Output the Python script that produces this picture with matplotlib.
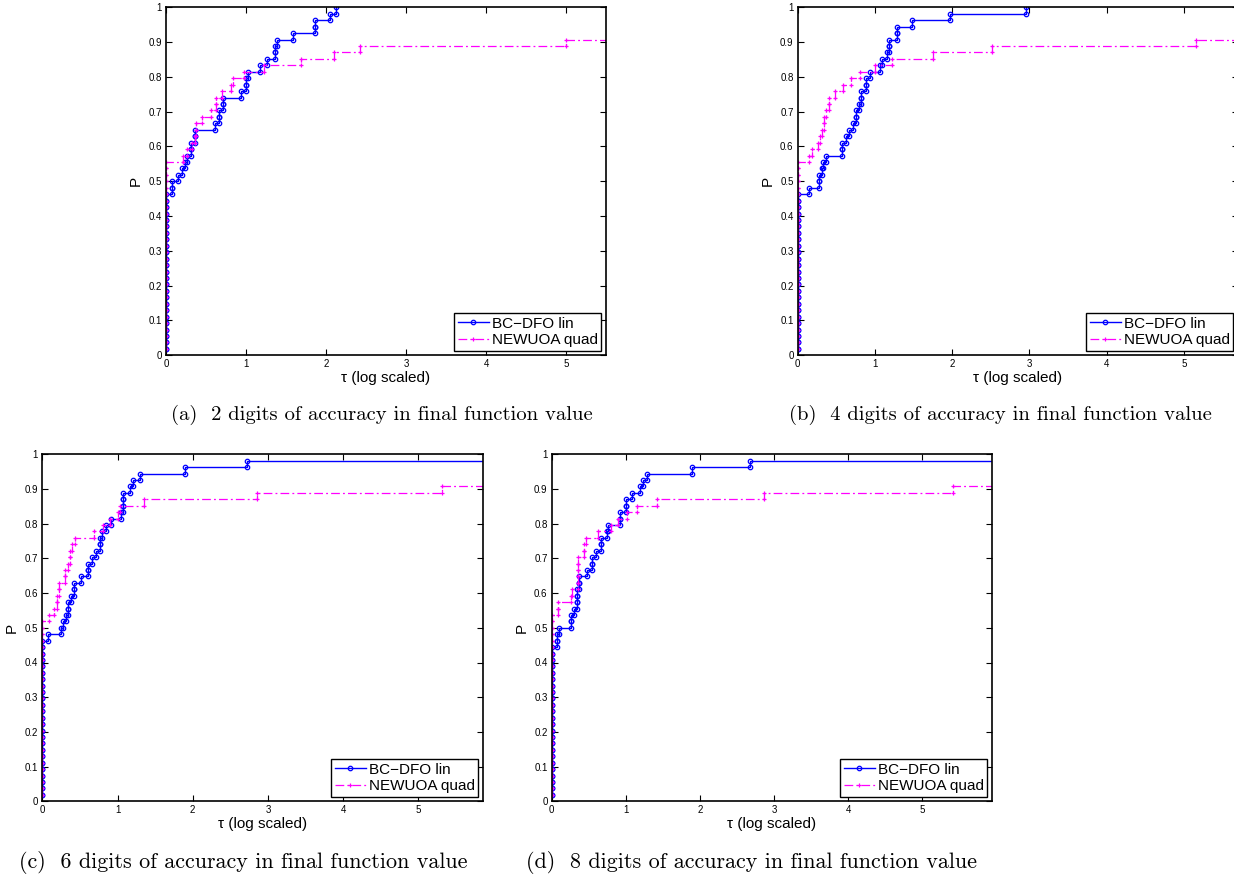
import matplotlib.pyplot as plt
import numpy as np

N_PROBLEMS = 54

# (a) 2 digits of accuracy
a_bcdfo_tau = [0.0, 0.075, 0.155, 0.2, 0.24, 0.26, 0.31, 0.36, 0.617, 0.66, 0.71,
               0.94, 1.0, 1.03, 1.17, 1.26, 1.36, 1.39, 1.59, 1.86, 2.05, 2.13]
a_bcdfo_count = [25, 27, 28, 29, 30, 31, 33, 35, 36, 38, 40,
                 41, 43, 44, 45, 46, 48, 49, 50, 52, 53, 54]
a_newuoa_tau = [0.0, 0.21, 0.26, 0.32, 0.36, 0.38, 0.45, 0.56, 0.62, 0.7, 0.81,
                0.84, 0.97, 1.22, 1.69, 2.1, 2.43, 5.0]
a_newuoa_count = [30, 31, 32, 33, 34, 36, 37, 38, 40, 41, 42,
                  43, 44, 45, 46, 47, 48, 49]

# (b) 4 digits of accuracy
b_bcdfo_tau = [0.0, 0.14, 0.27, 0.31, 0.33, 0.37, 0.57, 0.63, 0.665, 0.71, 0.76, 0.79,
               0.82, 0.89, 0.94, 1.06, 1.09, 1.15, 1.18, 1.29, 1.48, 1.97, 2.95]
b_bcdfo_count = [25, 26, 28, 29, 30, 31, 33, 34, 35, 36, 38, 39,
                 41, 43, 44, 45, 46, 47, 49, 51, 52, 53, 54]
b_newuoa_tau = [0.0, 0.14, 0.19, 0.26, 0.29, 0.31, 0.34, 0.37, 0.4, 0.48, 0.59,
                0.69, 0.81, 1.0, 1.22, 1.75, 2.51, 5.16]
b_newuoa_count = [30, 31, 32, 33, 34, 35, 37, 38, 40, 41, 42,
                  43, 44, 45, 46, 47, 48, 49]

# (c) 6 digits of accuracy
c_bcdfo_tau = [0.0, 0.07, 0.25, 0.27, 0.31, 0.345, 0.38, 0.42, 0.51, 0.61, 0.66, 0.72,
               0.765, 0.79, 0.845, 0.91, 1.04, 1.075, 1.16, 1.21, 1.3, 1.9, 2.72]
c_bcdfo_count = [25, 26, 27, 28, 29, 31, 32, 34, 35, 37, 38, 39,
                 41, 42, 43, 44, 45, 48, 49, 50, 51, 52, 53]
c_newuoa_tau = [0.0, 0.09, 0.16, 0.19, 0.225, 0.3, 0.345, 0.37, 0.39, 0.43, 0.69,
                0.81, 0.9, 1.01, 1.03, 1.35, 2.86, 5.31]
c_newuoa_count = [28, 29, 30, 32, 34, 36, 37, 39, 40, 41, 42,
                  43, 44, 45, 46, 47, 48, 49]

# (d) 8 digits of accuracy
d_bcdfo_tau = [0.0, 0.07, 0.1, 0.265, 0.3, 0.335, 0.375, 0.47, 0.545, 0.6, 0.665,
               0.74, 0.76, 0.92, 1.0, 1.09, 1.19, 1.23, 1.28, 1.89, 2.67]
d_bcdfo_count = [24, 26, 27, 29, 30, 33, 35, 36, 38, 39, 41,
                 42, 43, 45, 47, 48, 49, 50, 51, 52, 53]
d_newuoa_tau = [0.0, 0.09, 0.255, 0.28, 0.36, 0.44, 0.46, 0.63, 0.8, 0.89, 1.01,
                1.15, 1.42, 2.86, 5.41]
d_newuoa_count = [29, 31, 32, 33, 38, 40, 41, 42, 43, 44, 45,
                  46, 47, 48, 49]

solver_names = ["BC\u2212DFO lin", "NEWUOA quad"]
x_ticks = [0, 1, 2, 3, 4, 5]
y_ticks = [0, 0.1, 0.2, 0.3, 0.4, 0.5, 0.6, 0.7, 0.8, 0.9, 1]
y_tick_labels = ["0", "0.1", "0.2", "0.3", "0.4", "0.5", "0.6", "0.7", "0.8", "0.9", "1"]
captions = [
    "(a)  2 digits of accuracy in final function value",
    "(b)  4 digits of accuracy in final function value",
    "(c)  6 digits of accuracy in final function value",
    "(d)  8 digits of accuracy in final function value",
]

FIG_W, FIG_H = 1234, 877


def profile_points(tau, count, x_end):
    """Stairs points of a performance profile, markers at every corner."""
    steps = np.diff(np.concatenate([[0], count]))
    ratios = np.repeat(np.asarray(tau, dtype=float), steps)
    levels = np.arange(1, len(ratios) + 1) / N_PROBLEMS
    xs = np.repeat(ratios, 2)[1:]
    ys = np.repeat(levels, 2)
    if count[-1] < N_PROBLEMS:
        xs = np.append(xs, x_end)
    else:
        ys = ys[:-1]
    return xs, ys


def pixel_axes(fig, left, top, right, bottom):
    return fig.add_axes([
        left / FIG_W,
        1 - bottom / FIG_H,
        (right - left) / FIG_W,
        (bottom - top) / FIG_H,
    ])


def draw_panel(ax, bcdfo, newuoa, x_max):
    xs, ys = profile_points(*bcdfo, x_max + 1)
    ax.plot(xs, ys, color="#0000ff", lw=1.0, marker="o", ms=3.2,
            mfc="none", mew=0.9, label=solver_names[0])
    xs, ys = profile_points(*newuoa, x_max + 1)
    ax.plot(xs, ys, color="#ff00ff", lw=0.9, ls=(0, (7, 2.5, 1.5, 2.5)),
            marker="+", ms=3.2, mew=0.9, label=solver_names[1])

    ax.set_xlim(0, x_max)
    ax.set_ylim(0, 1)
    ax.set_xticks(x_ticks)
    ax.set_xticklabels([str(t) for t in x_ticks])
    ax.set_yticks(y_ticks)
    ax.set_yticklabels(y_tick_labels)
    ax.tick_params(direction="in", top=True, right=True, length=4,
                   width=0.8, labelsize=7, pad=3)
    for spine in ax.spines.values():
        spine.set_linewidth(1.2)
    ax.set_xlabel("\u03c4 (log scaled)", fontsize=11, labelpad=1)
    ax.set_ylabel("P", fontsize=11, labelpad=4)

    legend = ax.legend(loc="lower right", fontsize=11, numpoints=1,
                       fancybox=False, framealpha=1, edgecolor="black",
                       borderaxespad=0.3, borderpad=0.25, labelspacing=0.15,
                       handlelength=2.0, handletextpad=0.2)
    legend.get_frame().set_linewidth(1.0)


plt.rcParams["font.family"] = ["Liberation Sans", "DejaVu Sans"]

fig = plt.figure(figsize=(FIG_W / 100, FIG_H / 100), dpi=100)

ax_a = pixel_axes(fig, 166, 7.3, 606, 355.3)
draw_panel(ax_a, (a_bcdfo_tau, a_bcdfo_count), (a_newuoa_tau, a_newuoa_count), 5.5)

ax_b = pixel_axes(fig, 797.7, 7.3, 1238, 355.3)
draw_panel(ax_b, (b_bcdfo_tau, b_bcdfo_count), (b_newuoa_tau, b_newuoa_count), 5.7)

ax_c = pixel_axes(fig, 42.3, 454.3, 483, 801.3)
draw_panel(ax_c, (c_bcdfo_tau, c_bcdfo_count), (c_newuoa_tau, c_newuoa_count), 5.86)

ax_d = pixel_axes(fig, 551.7, 454.3, 992, 801.3)
draw_panel(ax_d, (d_bcdfo_tau, d_bcdfo_count), (d_newuoa_tau, d_newuoa_count), 5.94)

caption_spots = [(382, 415, 14.9), (1000, 415, 14.9), (243, 862, 15.9), (752, 862, 15.9)]
for text, (cx, cy, size) in zip(captions, caption_spots):
    fig.text(cx / FIG_W, 1 - cy / FIG_H, text, ha="center", va="center",
             family="cmr10", fontsize=size)

fig.savefig("out.png", dpi=100)
